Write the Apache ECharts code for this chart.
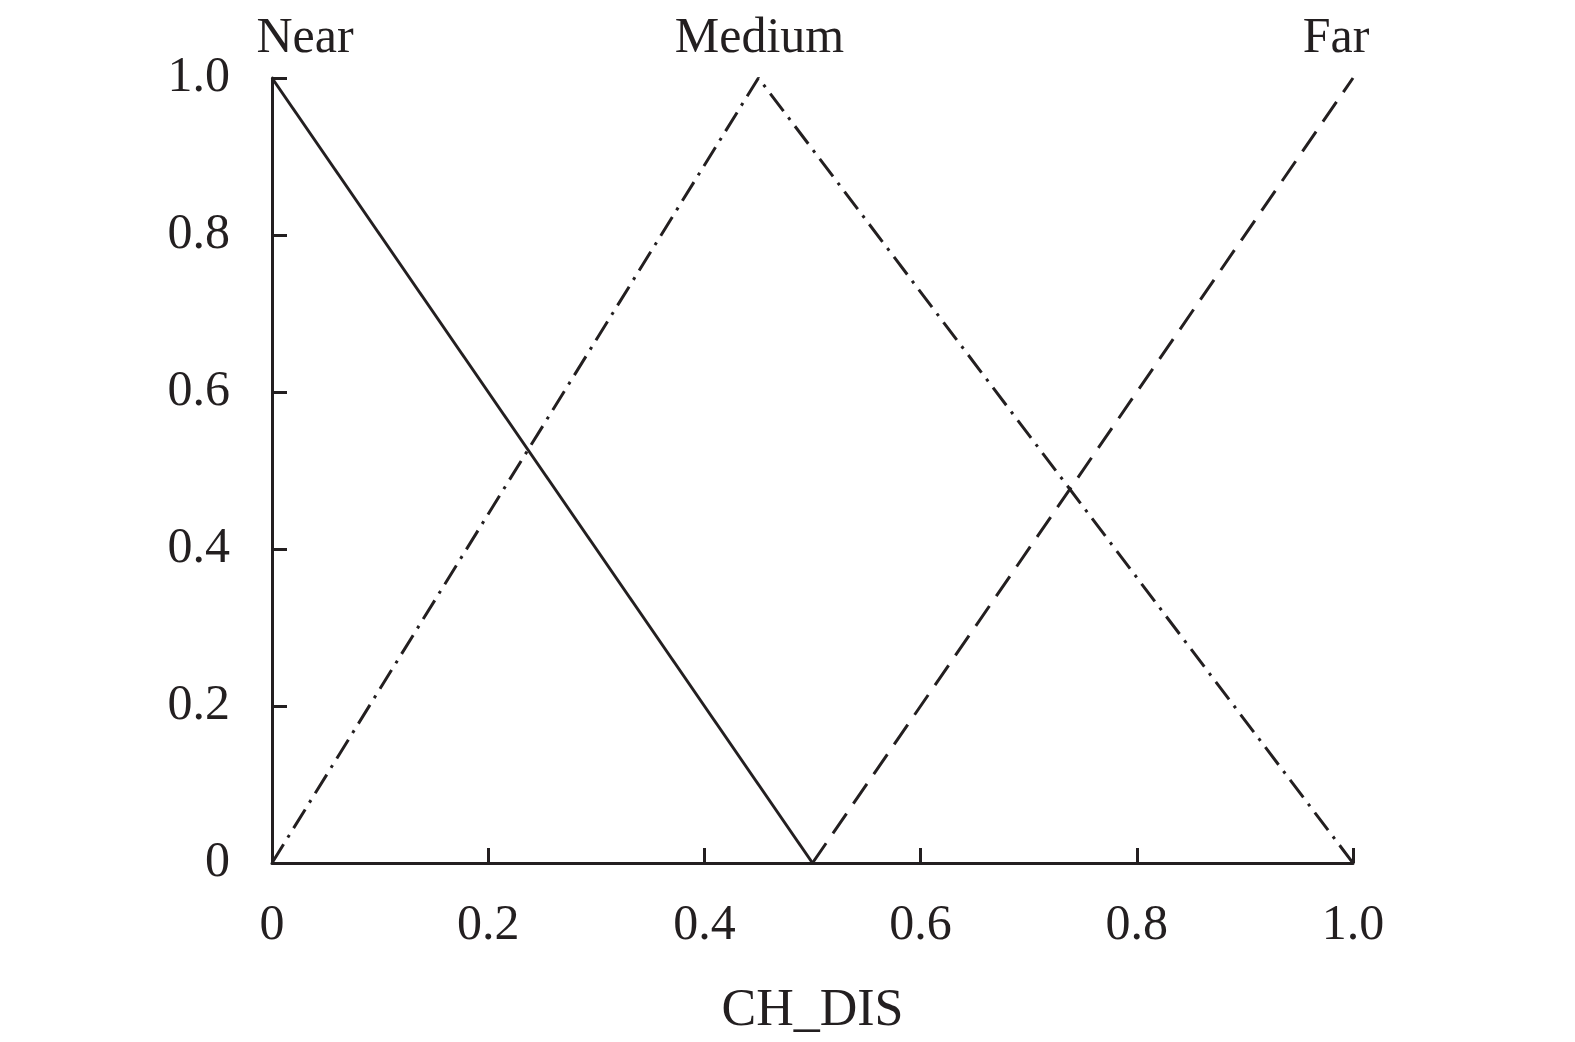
<!DOCTYPE html>
<html>
<head>
<meta charset="utf-8">
<script src="https://cdn.jsdelivr.net/npm/echarts@6/dist/echarts.min.js"></script>
<style>html,body{margin:0;padding:0;background:#fff}#c{width:1575px;height:1042px}</style>
</head>
<body>
<div id="c"></div>
<script>
const xTicks = [0, 0.2, 0.4, 0.6, 0.8, 1.0];
const yTicks = [0, 0.2, 0.4, 0.6, 0.8, 1.0];
const nearPts = [[0, 1], [0.5, 0]];
const mediumPts = [[0, 0], [0.45, 1], [1, 0]];
const farPts = [[0.5, 0], [1, 1]];
const seriesNames = ['Near', 'Medium', 'Far'];
const xName = 'CH_DIS';

const FONT = 'Liberation Serif';
const INK = '#231f20';
const FS = 50;
const fmt = v => (v === 0 ? '0' : v.toFixed(1));

function nameMark(coord, name, offset) {
  return {
    symbol: 'circle', symbolSize: 1, silent: true, animation: false,
    itemStyle: { color: 'rgba(0,0,0,0)' },
    label: { show: true, position: 'top', distance: 0, offset: offset, formatter: name,
      fontFamily: FONT, fontSize: FS, color: INK },
    data: [{ coord: coord }]
  };
}

const chart = echarts.init(document.getElementById('c'), null, { renderer: 'canvas' });
const common = { type: 'line', symbol: 'none', showSymbol: false, emphasis: { disabled: true } };
chart.setOption({
  animation: false,
  backgroundColor: '#fff',
  grid: { left: 272, top: 78, right: 222, bottom: 179, containLabel: false },
  xAxis: {
    type: 'value', min: 0, max: 1, interval: 0.2,
    name: xName, nameLocation: 'middle', nameGap: 122,
    nameTextStyle: { fontFamily: FONT, fontSize: FS + 2, color: INK },
    axisLine: { show: true, onZero: false, lineStyle: { color: INK, width: 3 } },
    axisTick: { show: true, inside: true, length: 15, lineStyle: { color: INK, width: 3 } },
    axisLabel: { margin: 38, fontFamily: FONT, fontSize: FS, color: INK, formatter: fmt },
    splitLine: { show: false }
  },
  yAxis: {
    type: 'value', min: 0, max: 1, interval: 0.2,
    axisLine: { show: true, onZero: false, lineStyle: { color: INK, width: 3 } },
    axisTick: { show: true, inside: true, length: 15, lineStyle: { color: INK, width: 3 } },
    axisLabel: { margin: 42, fontFamily: FONT, fontSize: FS, color: INK, formatter: fmt },
    splitLine: { show: false }
  },
  series: [
    Object.assign({}, common, { name: seriesNames[0], data: nearPts,
      lineStyle: { color: INK, width: 3, type: 'solid' },
      markPoint: nameMark(nearPts[0], seriesNames[0], [33, -14]) }),
    Object.assign({}, common, { name: seriesNames[1], data: mediumPts,
      lineStyle: { color: INK, width: 3, type: [22, 8, 3, 8] },
      markPoint: nameMark(mediumPts[1], seriesNames[1], [1, -14]) }),
    Object.assign({}, common, { name: seriesNames[2], data: farPts,
      lineStyle: { color: INK, width: 3, type: [24, 12] },
      markPoint: nameMark(farPts[1], seriesNames[2], [-17, -14]) })
  ]
});
</script>
</body>
</html>
